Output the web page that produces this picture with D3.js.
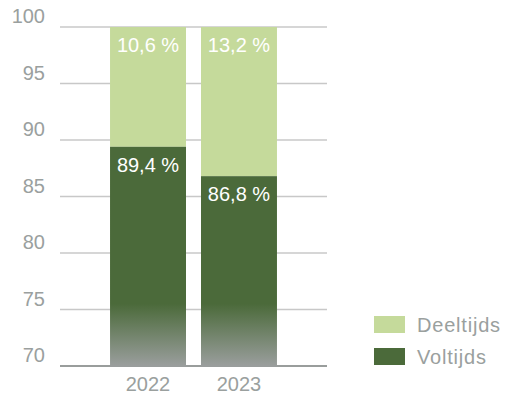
<!DOCTYPE html>
<html>
<head>
<meta charset="utf-8">
<script src="https://cdn.jsdelivr.net/npm/d3@7"></script>
<style>
  body { margin: 0; background: #fff; }
  svg text { font-family: "Helvetica Neue", Arial, "Liberation Sans", sans-serif; }
</style>
</head>
<body>
<div id="chart-area"></div>
<script>
// data
var years = ["2022", "2023"];
var voltijds = [89.4, 86.8];
var deeltijds = [10.6, 13.2];
var voltijdsLabels = ["89,4 %", "86,8 %"];
var deeltijdsLabels = ["10,6 %", "13,2 %"];
var yTicks = [70, 75, 80, 85, 90, 95, 100];
var legendNames = ["Deeltijds", "Voltijds"];

var light = "#c5da9b", dark = "#4b6a3a", grey = "#9aa09e";

var W = 511, H = 396;
var svg = d3.select("#chart-area").append("svg")
  .attr("width", W).attr("height", H);

var x = d3.scaleBand().domain(years).range([60, 327])
  .paddingInner(0.165).paddingOuter(0.55);
var y = d3.scaleLinear().domain([70, 100]).range([366, 27]);

// gradient for the dark bars
var grad = svg.append("defs").append("linearGradient")
  .attr("id", "fade").attr("gradientUnits", "userSpaceOnUse")
  .attr("x1", 0).attr("x2", 0).attr("y1", y(75.5)).attr("y2", y(70));
grad.append("stop").attr("offset", 0).attr("stop-color", dark);
grad.append("stop").attr("offset", 1).attr("stop-color", "#9a9e9d");

// gridlines
svg.append("g").selectAll("line").data(yTicks.slice(1)).join("line")
  .attr("x1", 60).attr("x2", 327)
  .attr("y1", d => y(d)).attr("y2", d => y(d))
  .attr("stroke", "#c8c8c8").attr("stroke-width", 1.5);

// y labels
svg.append("g").selectAll("text").data(yTicks).join("text")
  .attr("x", 45).attr("y", d => y(d) - 4)
  .attr("text-anchor", "end")
  .attr("font-size", 20).attr("fill", grey)
  .text(d => d);

// bars
var bars = svg.append("g").selectAll("g").data(years).join("g");
bars.append("rect")
  .attr("x", d => x(d)).attr("width", x.bandwidth())
  .attr("y", (d, i) => y(voltijds[i] + deeltijds[i]))
  .attr("height", (d, i) => y(voltijds[i]) - y(voltijds[i] + deeltijds[i]))
  .attr("fill", light);
bars.append("rect")
  .attr("x", d => x(d)).attr("width", x.bandwidth())
  .attr("y", (d, i) => y(voltijds[i]))
  .attr("height", (d, i) => y(70) - y(voltijds[i]))
  .attr("fill", "url(#fade)");

bars.append("text")
  .attr("x", d => x(d) + x.bandwidth() / 2)
  .attr("y", (d, i) => y(voltijds[i] + deeltijds[i]) + 25)
  .attr("text-anchor", "middle").attr("font-size", 20).attr("fill", "#fff")
  .text((d, i) => deeltijdsLabels[i]);
bars.append("text")
  .attr("x", d => x(d) + x.bandwidth() / 2)
  .attr("y", (d, i) => y(voltijds[i]) + 25)
  .attr("text-anchor", "middle").attr("font-size", 20).attr("fill", "#fff")
  .text((d, i) => voltijdsLabels[i]);

// baseline
svg.append("line")
  .attr("x1", 60).attr("x2", 327).attr("y1", y(70)).attr("y2", y(70))
  .attr("stroke", "#999d9c").attr("stroke-width", 2);

// x labels
svg.append("g").selectAll("text").data(years).join("text")
  .attr("x", d => x(d) + x.bandwidth() / 2).attr("y", 391)
  .attr("text-anchor", "middle").attr("font-size", 20).attr("fill", grey)
  .text(d => d);

// legend
var leg = svg.append("g").selectAll("g").data(legendNames).join("g")
  .attr("transform", (d, i) => "translate(374," + (316 + i * 32) + ")");
leg.append("rect").attr("width", 31).attr("height", 17)
  .attr("fill", (d, i) => i === 0 ? light : dark);
leg.append("text").attr("x", 43).attr("y", 16)
  .attr("font-size", 20).attr("letter-spacing", 0.8).attr("fill", grey)
  .text(d => d);
</script>
</body>
</html>
